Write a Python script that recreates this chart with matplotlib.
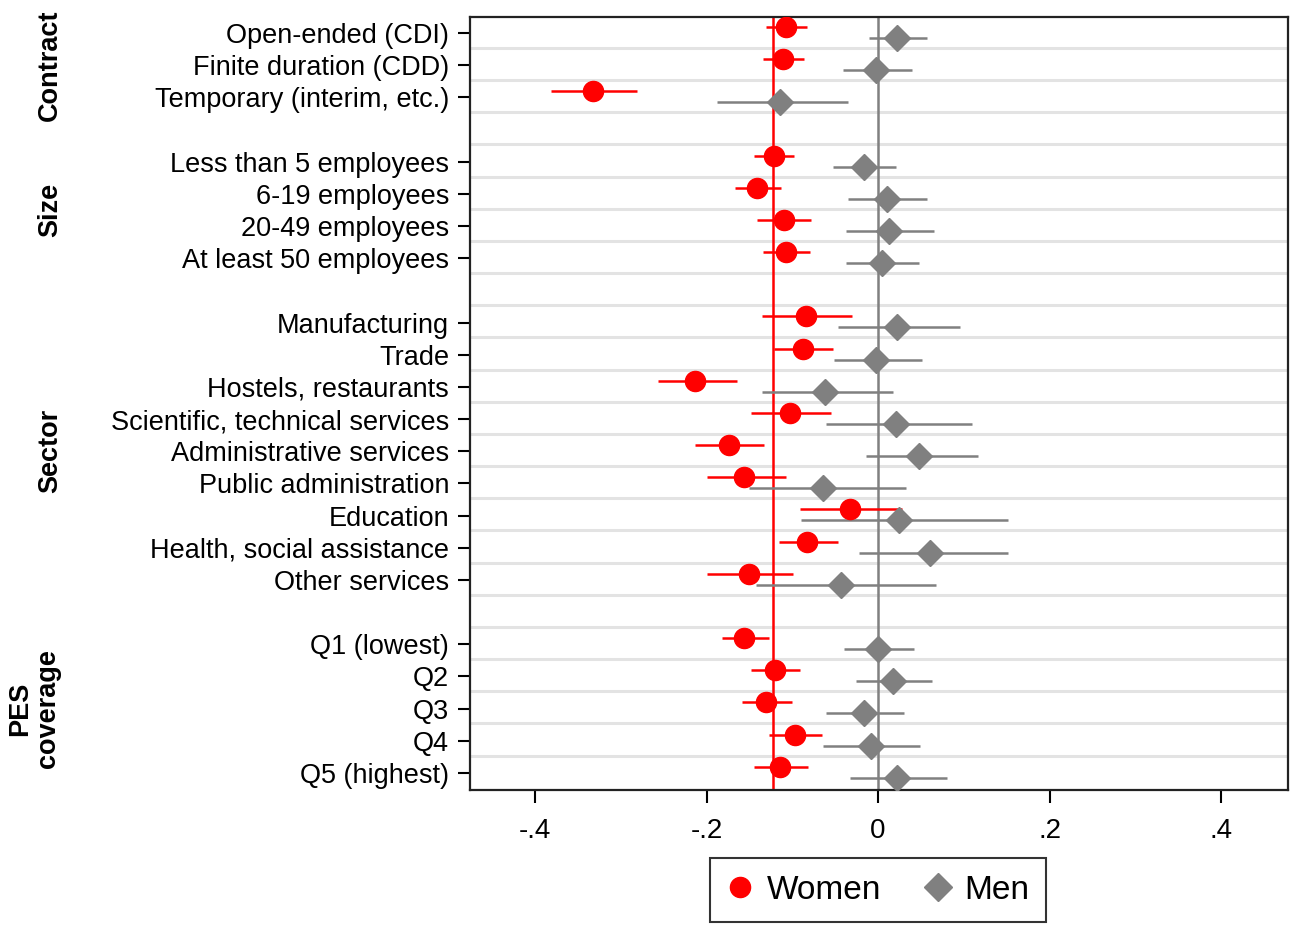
import matplotlib
matplotlib.use("Agg")
import matplotlib.pyplot as plt
from matplotlib.lines import Line2D
import numpy as np

plt.rcParams['font.family'] = ['Liberation Sans', 'DejaVu Sans']

# ---------------- data ----------------
groups = ["Contract", "Size", "Sector", "PES\ncoverage"]
group_items = [
    ["Open-ended (CDI)", "Finite duration (CDD)", "Temporary (interim, etc.)"],
    ["Less than 5 employees", "6-19 employees", "20-49 employees", "At least 50 employees"],
    ["Manufacturing", "Trade", "Hostels, restaurants", "Scientific, technical services",
     "Administrative services", "Public administration", "Education",
     "Health, social assistance", "Other services"],
    ["Q1 (lowest)", "Q2", "Q3", "Q4", "Q5 (highest)"],
]

women_coef = [-0.108, -0.111, -0.333, -0.122, -0.141, -0.110, -0.108,
              -0.084, -0.088, -0.213, -0.103, -0.174, -0.156, -0.033, -0.083, -0.151,
              -0.156, -0.120, -0.131, -0.097, -0.115]
women_lo = [-0.131, -0.134, -0.381, -0.145, -0.167, -0.141, -0.134,
            -0.136, -0.122, -0.257, -0.148, -0.214, -0.200, -0.091, -0.116, -0.199,
            -0.182, -0.148, -0.159, -0.127, -0.145]
women_hi = [-0.083, -0.087, -0.281, -0.098, -0.113, -0.078, -0.080,
            -0.030, -0.053, -0.165, -0.055, -0.133, -0.108, 0.028, -0.047, -0.099,
            -0.127, -0.091, -0.101, -0.066, -0.082]

men_coef = [0.022, -0.002, -0.115, -0.016, 0.010, 0.013, 0.004,
            0.022, -0.002, -0.062, 0.021, 0.048, -0.064, 0.024, 0.060, -0.043,
            0.000, 0.017, -0.016, -0.008, 0.022]
men_lo = [-0.011, -0.041, -0.188, -0.053, -0.035, -0.037, -0.037,
          -0.047, -0.051, -0.135, -0.061, -0.014, -0.150, -0.090, -0.022, -0.142,
          -0.040, -0.026, -0.061, -0.064, -0.033]
men_hi = [0.057, 0.039, -0.035, 0.021, 0.057, 0.065, 0.048,
          0.096, 0.051, 0.017, 0.109, 0.116, 0.032, 0.151, 0.151, 0.068,
          0.042, 0.063, 0.030, 0.049, 0.080]

women_ref = -0.123
men_ref = 0.0

xticks = [-0.4, -0.2, 0.0, 0.2, 0.4]
xticklabels = ["-.4", "-.2", "0", ".2", ".4"]

# ---------------- layout ----------------
group_label_x = [50, 50, 50, 34]  # pixels from figure left

labels, ypos, group_centers = [], [], []
pos = 0
for gi, items in enumerate(group_items):
    start = pos
    for it in items:
        labels.append(it)
        ypos.append(pos)
        pos += 1
    group_centers.append((start + pos - 1) / 2)
    pos += 1  # gap
nslots = pos - 1
ypos = np.array(ypos, dtype=float)

RED = "#ff0000"
GRAY = "#808080"

fig = plt.figure(figsize=(12.99, 9.25), dpi=100)
ax = fig.add_axes([0.3618, 0.146, 0.6297, 0.8356])

for k in range(nslots - 1):
    ax.axhline(k + 0.46, color="#e3e3e3", lw=2.2, zorder=0)

ax.axvline(women_ref, color=RED, lw=1.8, zorder=1)
ax.axvline(men_ref, color=GRAY, lw=1.8, zorder=1)

off_w = -0.19
off_m = 0.15
ax.hlines(ypos + off_w, women_lo, women_hi, color=RED, lw=1.8, zorder=2)
ax.hlines(ypos + off_m, men_lo, men_hi, color=GRAY, lw=1.8, zorder=2)
ax.plot(women_coef, ypos + off_w, 'o', color=RED, ms=14.5, mec=RED, zorder=3, ls='none')
ax.plot(men_coef, ypos + off_m, 'D', color=GRAY, ms=13.5, mec=GRAY, zorder=3, ls='none')

ax.set_ylim(nslots - 0.5 + 0.03, -0.5)
ax.set_xlim(-0.476, 0.478)
ax.set_yticks(ypos)
ax.set_yticklabels(labels)
ax.set_xticks(xticks)
ax.set_xticklabels(xticklabels)
ax.tick_params(axis='y', length=9, width=1.5, pad=6, direction='out', labelsize=19.5)
ax.tick_params(axis='x', length=9, width=1.5, pad=11, direction='out', labelsize=20)
for s in ax.spines.values():
    s.set_linewidth(1.6)
    s.set_color("#222222")

for g, c, gx in zip(groups, group_centers, group_label_x):
    ax.annotate(g, xy=(0, c), xycoords=('figure fraction', 'data'),
                xytext=(gx, 0), textcoords='offset pixels',
                rotation=90, ha='center', va='center', fontsize=19.5,
                fontweight='bold', linespacing=1.1)

handles = [
    Line2D([], [], marker='o', color=RED, ls='none', ms=14.5),
    Line2D([], [], marker='D', color=GRAY, ls='none', ms=14),
]
leg = fig.legend(handles, ["Women", "Men"], loc='lower center',
                 bbox_to_anchor=(0.676, 0.003), ncol=2, fontsize=24,
                 frameon=True, fancybox=False, edgecolor='black',
                 handletextpad=0.4, columnspacing=1.3, borderpad=0.5,
                 handlelength=0.8, borderaxespad=0)
leg.get_frame().set_linewidth(1.5)

fig.savefig("out.png", dpi=100)
